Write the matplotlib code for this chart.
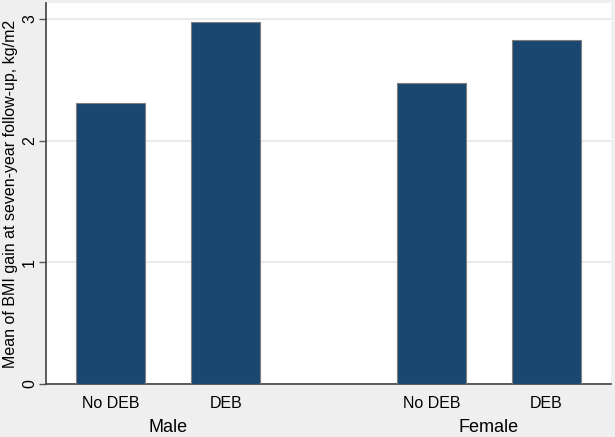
import matplotlib.pyplot as plt

plt.rcParams['font.family'] = ['Liberation Sans', 'DejaVu Sans']

groups = ["Male", "Female"]
categories = ["No DEB", "DEB"]
values = {
    "Male": [2.31, 2.97],
    "Female": [2.47, 2.83],
}
y_ticks = [0, 1, 2, 3]
ylabel = "Mean of BMI gain at seven-year follow-up, kg/m2"

bar_color = '#1a476f'
bg = '#efefef'
group_step = 2.79

fig = plt.figure(figsize=(6.15, 4.37), dpi=100, facecolor=bg)
ax = fig.add_axes([46 / 615, 1 - 384 / 437, 565 / 615, 381 / 437])
ax.set_facecolor('white')

xs, labels = [], []
for g, grp in enumerate(groups):
    base = g * group_step
    pos = [base + i for i in range(len(categories))]
    ax.bar(pos, values[grp], width=0.6, color=bar_color,
           edgecolor='#7f7f7f', linewidth=0.8, zorder=3)
    xs += pos
    labels += categories
    ax.text(base + (len(categories) - 1) / 2, -0.115, grp,
            transform=ax.get_xaxis_transform(), ha='center', va='center',
            fontsize=13)

ax.set_xticks(xs)
ax.set_xticklabels(labels, fontsize=11.5)
ax.tick_params(axis='x', length=0, pad=9)
ax.set_xlim(-0.565, group_step + 1 + 0.565)

ax.set_ylim(0, 3.13)
ax.set_yticks(y_ticks)
ax.set_yticklabels([str(t) for t in y_ticks], rotation=90, va='center',
                   fontsize=11.5)
ax.tick_params(axis='y', length=5, width=1, color='#555555', pad=1.5)
ax.yaxis.grid(True, color='#eaeaea', linewidth=1.5, zorder=0)
ax.set_ylabel(ylabel, fontsize=11.5)
ax.yaxis.set_label_coords(-0.049, 0.5)

for s in ['top', 'right']:
    ax.spines[s].set_visible(False)
for s in ['left', 'bottom']:
    ax.spines[s].set_color('#404040')
    ax.spines[s].set_linewidth(1.2)

fig.savefig('out.png', dpi=100, facecolor=bg)
